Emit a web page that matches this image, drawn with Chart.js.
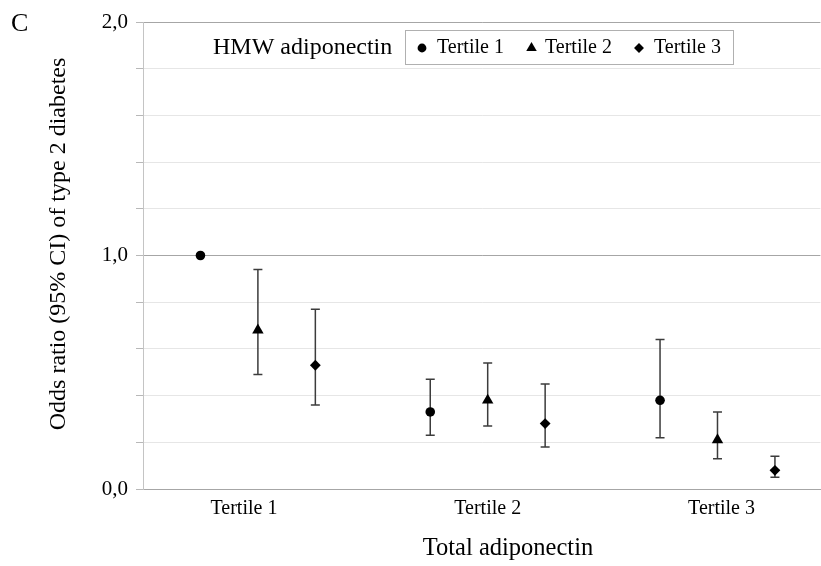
<!DOCTYPE html>
<html>
<head>
<meta charset="utf-8">
<script src="https://cdn.jsdelivr.net/npm/chart.js@4.4.0/dist/chart.umd.min.js"></script>
<style>
html,body{margin:0;padding:0;background:#fff;overflow:hidden;width:821px;height:566px}
canvas{display:block}
</style>
</head>
<body>
<canvas id="c" width="827" height="566"></canvas>
<script>
// ---- data ----
const totalCategories = ['Tertile 1', 'Tertile 2', 'Tertile 3'];   // Total adiponectin tertiles (x groups)
const hmwSeries = ['Tertile 1', 'Tertile 2', 'Tertile 3'];         // HMW adiponectin tertiles (series)
const orT1 = [1.00, 0.33, 0.38];
const loT1 = [null, 0.23, 0.22];
const hiT1 = [null, 0.47, 0.64];
const orT2 = [0.68, 0.38, 0.21];
const loT2 = [0.49, 0.27, 0.13];
const hiT2 = [0.94, 0.54, 0.33];
const orT3 = [0.53, 0.28, 0.08];
const loT3 = [0.36, 0.18, 0.05];
const hiT3 = [0.77, 0.45, 0.14];
const yTickLabels = ['0,0', '1,0', '2,0'];

const FONT = "'Liberation Serif', 'Times New Roman', serif";
const seriesOR = [orT1, orT2, orT3];
const seriesLo = [loT1, loT2, loT3];
const seriesHi = [hiT1, hiT2, hiT3];
const styles = [
  {pointStyle: 'circle', radius: 4.8},
  {pointStyle: 'triangle', radius: 6.6},
  {pointStyle: 'rectRot', radius: 5.4}
];

const datasets = hmwSeries.map((name, s) => ({
  label: name,
  data: seriesOR[s].map((v, c) => ({x: 1 + 4 * c + s, y: v})),
  lo: seriesLo[s],
  hi: seriesHi[s],
  pointStyle: styles[s].pointStyle,
  pointRadius: styles[s].radius,
  pointHoverRadius: styles[s].radius,
  backgroundColor: '#000',
  borderColor: '#000',
  borderWidth: 0,
  showLine: false
}));

const errorBars = {
  id: 'errorBars',
  beforeDatasetsDraw(chart) {
    const ctx = chart.ctx, y = chart.scales.y;
    ctx.save();
    ctx.strokeStyle = '#3c3c3c';
    ctx.lineWidth = 1.5;
    chart.data.datasets.forEach((ds, i) => {
      const meta = chart.getDatasetMeta(i);
      meta.data.forEach((pt, j) => {
        if (ds.lo[j] == null || ds.hi[j] == null) return;
        const x = pt.x, yl = y.getPixelForValue(ds.lo[j]), yh = y.getPixelForValue(ds.hi[j]);
        ctx.beginPath();
        ctx.moveTo(x, yl); ctx.lineTo(x, yh);
        ctx.moveTo(x - 4.5, yl); ctx.lineTo(x + 4.5, yl);
        ctx.moveTo(x - 4.5, yh); ctx.lineTo(x + 4.5, yh);
        ctx.stroke();
      });
    });
    ctx.restore();
  }
};

const decorations = {
  id: 'decorations',
  afterDraw(chart) {
    const ctx = chart.ctx;
    ctx.save();
    ctx.fillStyle = '#000';
    // panel letter
    ctx.font = '26px ' + FONT;
    ctx.textAlign = 'left'; ctx.textBaseline = 'middle';
    ctx.fillText('C', 11, 24);
    // axis titles
    ctx.font = '24.5px ' + FONT;
    ctx.textAlign = 'center';
    ctx.fillText('Total adiponectin', 508, 549);
    ctx.save();
    ctx.translate(59, 244);
    ctx.rotate(-Math.PI / 2);
    ctx.font = '24px ' + FONT;
    ctx.fillText('Odds ratio (95% CI) of type 2 diabetes', 0, 0);
    ctx.restore();
    // legend
    ctx.font = '24px ' + FONT;
    ctx.textAlign = 'left';
    ctx.fillText('HMW adiponectin', 213, 48);
    ctx.strokeStyle = '#b0b0b0';
    ctx.lineWidth = 1;
    ctx.strokeRect(405.5, 30.5, 328, 34);
    const markerX = [422, 531.5, 639];
    const textX = [437, 545, 654];
    ctx.font = '20px ' + FONT;
    hmwSeries.forEach((name, s) => {
      ctx.fillStyle = '#000';
      Chart.helpers.drawPoint(ctx, {pointStyle: styles[s].pointStyle, radius: styles[s].radius * 0.92, rotation: 0, borderWidth: 0}, markerX[s], 48);
      ctx.fillText(name, textX[s], 48);
    });
    ctx.restore();
  }
};

const catTickPos = [1.757, 6.0, 10.07];

new Chart(document.getElementById('c'), {
  type: 'scatter',
  data: {datasets},
  plugins: [errorBars, decorations],
  options: {
    responsive: false,
    devicePixelRatio: 1,
    animation: false,
    events: [],
    layout: {padding: {top: 22, right: 0, bottom: 0, left: 0}},
    plugins: {legend: {display: false}, tooltip: {enabled: false}},
    scales: {
      x: {
        type: 'linear',
        min: 0,
        max: 678 / 57.5,
        grid: {display: false, drawTicks: false},
        border: {display: true, color: '#a6a6a6', width: 1},
        afterBuildTicks(scale) { scale.ticks = catTickPos.map(v => ({value: v})); },
        afterFit(scale) { scale.height = 77; scale.paddingLeft = 0; scale.paddingRight = 0; },
        ticks: {
          autoSkip: false, maxRotation: 0, padding: 8, color: '#000',
          font: {family: FONT, size: 20},
          callback: (v, i) => totalCategories[i]
        }
      },
      y: {
        type: 'linear',
        min: 0,
        max: 2,
        afterFit(scale) { scale.width = 143; },
        grid: {
          color: c => (Math.abs(c.tick.value - Math.round(c.tick.value)) < 1e-6 ? '#a6a6a6' : '#e6e6e6'),
          tickColor: '#b8b8b8',
          tickLength: 7,
          lineWidth: 1
        },
        border: {display: true, color: '#c4c4c4', width: 1},
        ticks: {
          stepSize: 0.2, autoSkip: false, padding: 8, color: '#000',
          font: {family: FONT, size: 21},
          callback: v => {
            const r = Math.round(v);
            return Math.abs(v - r) < 1e-6 ? yTickLabels[r] : '';
          }
        }
      }
    }
  }
});
</script>
</body>
</html>
